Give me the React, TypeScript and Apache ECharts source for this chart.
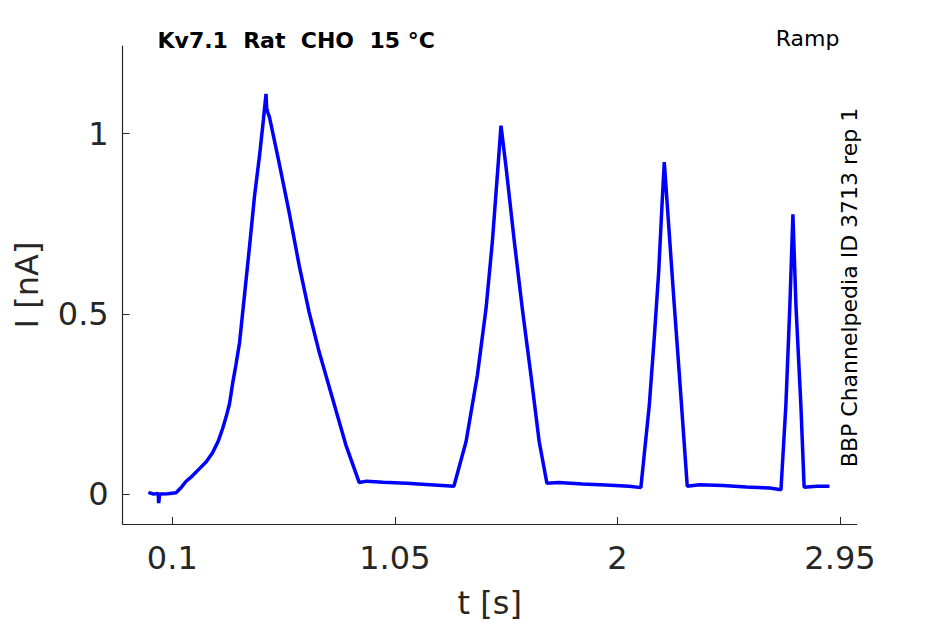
import React, { useEffect, useRef } from "react";
import * as echarts from "echarts";

// Time (s) and current (nA)
const timeS: number[] = [
  -0.002, 0.02, 0.04, 0.042, 0.046, 0.08, 0.116, 0.14, 0.158, 0.185, 0.215, 0.245, 0.272, 0.295,
  0.315, 0.33, 0.344, 0.357, 0.372, 0.387, 0.408, 0.43, 0.451, 0.472, 0.489, 0.5, 0.503, 0.507,
  0.515, 0.556, 0.599, 0.642, 0.684, 0.727, 0.784, 0.841, 0.898,
  0.93, 1.0, 1.1, 1.2, 1.302,
  1.354, 1.402, 1.439, 1.466, 1.487, 1.503, 1.524, 1.56, 1.594, 1.631, 1.666, 1.699,
  1.75, 1.85, 1.95, 2.05, 2.1,
  2.136, 2.157, 2.176, 2.19, 2.2, 2.221, 2.242, 2.264, 2.281, 2.298,
  2.35, 2.45, 2.55, 2.65, 2.698,
  2.719, 2.736, 2.749, 2.762, 2.783, 2.797,
  2.85, 2.905,
];
const currentNA: number[] = [
  0.005, 0.0, 0.002, -0.025, 0.0, 0.001, 0.004, 0.02, 0.035, 0.05, 0.07, 0.09, 0.115, 0.145,
  0.182, 0.215, 0.25, 0.305, 0.36, 0.42, 0.551, 0.689, 0.827, 0.937, 1.039, 1.11, 1.07, 1.06,
  1.045, 0.919, 0.781, 0.633, 0.505, 0.394, 0.265, 0.136, 0.032,
  0.036, 0.033, 0.03, 0.026, 0.022,
  0.146, 0.329, 0.514, 0.699, 0.881, 1.022, 0.91, 0.7, 0.514, 0.329, 0.146, 0.03,
  0.032, 0.028, 0.025, 0.022, 0.018,
  0.247, 0.431, 0.615, 0.799, 0.921, 0.725, 0.53, 0.334, 0.178, 0.022,
  0.026, 0.024, 0.02, 0.017, 0.012,
  0.247, 0.523, 0.776, 0.523, 0.247, 0.019,
  0.022, 0.022,
];

const xTicks: number[] = [0.1, 1.05, 2, 2.95];
const yTicks: number[] = [0, 0.5, 1];

const titleText = "Kv7.1  Rat  CHO  15 °C";
const cornerText = "Ramp";
const sideText = "BBP Channelpedia ID 3713 rep 1";
const xName = "t [s]";
const yName = "I [nA]";

const FONT = "'DejaVu Sans', sans-serif";
const AXIS_COLOR = "#262626";

export default function App() {
  const ref = useRef<HTMLDivElement>(null);
  useEffect(() => {
    if (!ref.current) return;
    const chart = echarts.init(ref.current, undefined, { renderer: "svg" });
    const data = timeS.map((t, i) => [t, currentNA[i]]);
    chart.setOption({
      animation: false,
      backgroundColor: "#ffffff",
      grid: { left: 122.7, right: 88.3, top: 46, bottom: 98, containLabel: false },
      xAxis: {
        type: "value",
        min: -0.1117,
        max: 3.0213,
        name: xName,
        nameLocation: "middle",
        nameGap: 63,
        nameTextStyle: { fontSize: 32, color: AXIS_COLOR, fontFamily: FONT },
        axisLine: { show: true, onZero: false, lineStyle: { color: AXIS_COLOR, width: 1.2 } },
        axisTick: { show: true, inside: true, length: 7, customValues: xTicks, lineStyle: { color: AXIS_COLOR } },
        axisLabel: {
          customValues: xTicks,
          fontSize: 32,
          color: AXIS_COLOR,
          fontFamily: FONT,
          margin: 18,
          formatter: (v: number) => String(v),
        },
        splitLine: { show: false },
      },
      yAxis: {
        type: "value",
        min: -0.0829,
        max: 1.243,
        name: yName,
        nameLocation: "middle",
        nameGap: 80,
        nameTextStyle: { fontSize: 32, color: AXIS_COLOR, fontFamily: FONT },
        axisLine: { show: true, onZero: false, lineStyle: { color: AXIS_COLOR, width: 1.2 } },
        axisTick: { show: true, inside: true, length: 7, customValues: yTicks, lineStyle: { color: AXIS_COLOR } },
        axisLabel: {
          customValues: yTicks,
          fontSize: 32,
          color: AXIS_COLOR,
          fontFamily: FONT,
          margin: 14,
          formatter: (v: number) => String(v),
        },
        splitLine: { show: false },
      },
      graphic: [
        {
          type: "text",
          left: 157.5,
          top: 29,
          style: { text: titleText, fontSize: 22, fontWeight: "bold", fill: "#000", fontFamily: FONT },
        },
        {
          type: "text",
          x: 839.5,
          y: 27,
          style: { text: cornerText, fontSize: 22, fill: "#000", fontFamily: FONT, textAlign: "right", textVerticalAlign: "top" },
        },
        {
          type: "text",
          x: 849,
          y: 287.5,
          rotation: Math.PI / 2,
          style: { text: sideText, fontSize: 22, fill: "#000", fontFamily: FONT, textAlign: "center", textVerticalAlign: "middle" },
        },
      ],
      series: [
        {
          type: "line",
          data,
          showSymbol: false,
          symbol: "none",
          lineStyle: { color: "#0000ff", width: 3.5 },
          itemStyle: { color: "#0000ff" },
        },
      ],
    });
    return () => chart.dispose();
  }, []);
  return (
    <div
      ref={ref}
      style={{ position: "fixed", left: 0, top: 0, width: 945, height: 624, background: "#fff" }}
    />
  );
}
